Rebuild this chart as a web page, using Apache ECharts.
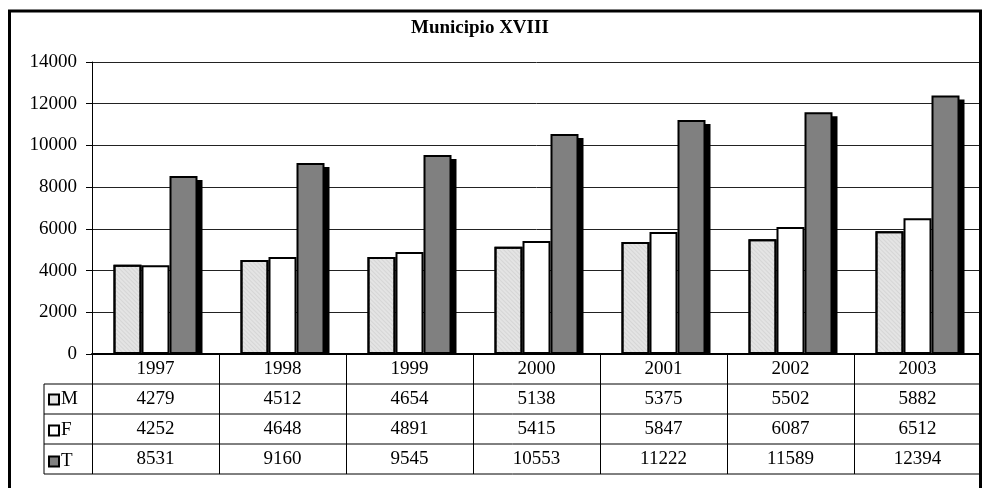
<!doctype html>
<html lang="it">
<head>
	<meta charset="utf-8" />
	<title>Municipio XVIII</title>
	<script src="https://cdn.jsdelivr.net/npm/echarts@6/dist/echarts.min.js"></script>
	<style>
		html, body { margin: 0; padding: 0; background: #fff; }
		#chart { width: 982px; height: 488px; }
	</style>
</head>
<body>
	<div id="chart"></div>
	<script>
		const years = ['1997', '1998', '1999', '2000', '2001', '2002', '2003'];
		const maschi = [4279, 4512, 4654, 5138, 5375, 5502, 5882];
		const femmine = [4252, 4648, 4891, 5415, 5847, 6087, 6512];
		const totale = [8531, 9160, 9545, 10553, 11222, 11589, 12394];
		const yTicks = { min: 0, max: 14000, interval: 2000 };

		const serif = "'Liberation Serif', 'Times New Roman', serif";
		const barW = 28;

		// one hidden category axis per table row, the labels are the row values
		function rowAxis(values, offset) {
			return {
				type: 'category',
				data: values.map(String),
				position: 'bottom',
				offset: offset,
				z: 6,
				axisLine: { show: false },
				axisTick: { show: false },
				splitLine: { show: false },
				axisLabel: { color: '#000', fontFamily: serif, fontSize: 19, margin: 15, verticalAlign: 'middle' }
			};
		}

		const chart = echarts.init(document.getElementById('chart'));
		chart.setOption({
			animation: false,
			title: {
				text: 'Municipio XVIII',
				left: 406,
				top: 14,
				textStyle: { fontFamily: serif, fontSize: 19, fontWeight: 'bold', color: '#000' }
			},
			legend: {
				orient: 'vertical',
				left: 48,
				top: 390,
				padding: 0,
				itemWidth: 10,
				itemHeight: 10,
				itemGap: 12,
				icon: 'rect',
				selectedMode: false,
				textStyle: { fontFamily: serif, fontSize: 19, color: '#000', lineHeight: 18, padding: [0, 0, 0, -3] },
				itemStyle: { borderWidth: 2, borderColor: '#000', decal: 'none' },
				data: ['M', 'F', 'T']
			},
			grid: { left: 92, right: 1, top: 62, bottom: 134 },
			xAxis: [
				{
					type: 'category',
					data: years,
					z: 6,
					axisLine: { lineStyle: { color: '#000', width: 2 } },
					axisTick: { show: true, length: 120, lineStyle: { color: '#000', width: 1 } },
					axisLabel: { color: '#000', fontFamily: serif, fontSize: 19, margin: 15, verticalAlign: 'middle' }
				},
				rowAxis(maschi, 30),
				rowAxis(femmine, 60),
				rowAxis(totale, 90)
			],
			yAxis: {
				type: 'value',
				min: yTicks.min,
				max: yTicks.max,
				interval: yTicks.interval,
				axisLine: { show: true, lineStyle: { color: '#000', width: 1 } },
				axisTick: { show: true, length: 6, lineStyle: { color: '#000' } },
				axisLabel: { color: '#000', fontFamily: serif, fontSize: 19, margin: 15, formatter: v => String(v) },
				splitLine: { lineStyle: { color: '#222', width: 1 } }
			},
			series: [
				{
					name: 'M',
					type: 'bar',
					data: maschi,
					barWidth: barW,
					barGap: '0%',
					itemStyle: {
						color: '#e4e4e4',
						borderColor: '#000',
						borderWidth: 2,
						decal: {
							symbol: 'rect',
							symbolSize: 1,
							dashArrayX: [1, 0],
							dashArrayY: [1, 2],
							rotation: Math.PI / 4,
							color: 'rgba(180,180,180,0.3)'
						}
					}
				},
				{
					name: 'F',
					type: 'bar',
					data: femmine,
					barWidth: barW,
					barGap: '0%',
					itemStyle: { color: '#fff', borderColor: '#000', borderWidth: 2 }
				},
				{
					name: 'T',
					type: 'bar',
					data: totale,
					barWidth: barW,
					barGap: '0%',
					z: 3,
					itemStyle: { color: '#808080', borderColor: '#000', borderWidth: 2 }
				},
				{
					// black drop shadow behind the T bars
					name: 'T shadow',
					type: 'custom',
					z: 1,
					silent: true,
					data: totale.map((v, i) => [i, v]),
					encode: { x: 0, y: 1 },
					renderItem: (params, api) => {
						const top = api.coord([api.value(0), api.value(1)]);
						const base = api.coord([api.value(0), 0]);
						const x0 = top[0] + barW / 2;
						return {
							type: 'rect',
							shape: { x: x0 + 5, y: top[1] + 4, width: barW, height: base[1] - top[1] },
							style: { fill: '#000' }
						};
					}
				}
			],
			graphic: [
				// hides the bar shadows below the axis line
				{ type: 'rect', z: 4, silent: true, shape: { x: 93, y: 355, width: 888, height: 28 }, style: { fill: '#fff' } },
				// table grid
				{ type: 'line', z: 7, shape: { x1: 44, y1: 384, x2: 981, y2: 384 }, style: { stroke: '#000', lineWidth: 1 } },
				{ type: 'line', z: 7, shape: { x1: 44, y1: 414, x2: 981, y2: 414 }, style: { stroke: '#000', lineWidth: 1 } },
				{ type: 'line', z: 7, shape: { x1: 44, y1: 444, x2: 981, y2: 444 }, style: { stroke: '#000', lineWidth: 1 } },
				{ type: 'line', z: 7, shape: { x1: 44, y1: 474, x2: 981, y2: 474 }, style: { stroke: '#000', lineWidth: 1 } },
				{ type: 'line', z: 7, shape: { x1: 44, y1: 384, x2: 44, y2: 474 }, style: { stroke: '#000', lineWidth: 1 } },
				// outer frame
				{ type: 'rect', z: 8, silent: true, shape: { x: 9.5, y: 11, width: 971, height: 490 }, style: { fill: 'none', stroke: '#000', lineWidth: 3 } }
			]
		});
	</script>
</body>
</html>
